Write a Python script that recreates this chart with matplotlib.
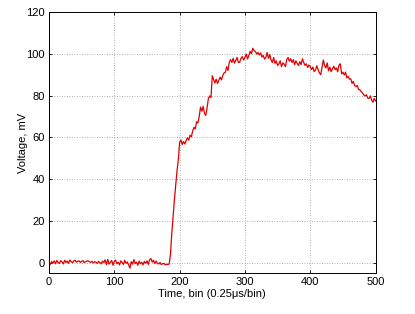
import numpy as np
import matplotlib
matplotlib.use('Agg')
import matplotlib.pyplot as plt

## voltage, one value every 2 bins (0..500)
bins = np.arange(0, 501, 2)
voltage = [
    0.3, -0.8, 0.6, -0.2, 0.9, -0.5, 1.1, 0.2, -0.4, 1.0,
    0.4, -0.6, 1.2, 0.1, 0.8, -0.3, 1.3, 0.5, 0.0, 0.9,
    1.2, 0.3, 0.7, 0.9, 0.2, 0.6, 1.0, 0.1, 0.5, 0.8,
    0.9, 0.4, 0.2, 0.7, -0.1, 0.5, 0.3, -0.4, 0.6, 0.1,
    -0.6, 0.8, 0.0, 1.4, -0.9, 1.6, -0.7, 0.2, 1.1, -1.2,
    0.6, 1.3, -0.5, 0.2, -1.0, 0.9, 0.1, -0.8, 1.2, -0.3,
    0.4, -1.1, -2.6, 0.5, -0.7, 1.5, -0.4, 0.3, -1.2, 0.8,
    -0.5, 0.2, -1.0, 0.6, -0.3, 0.9, -0.8, 1.4, 2.0, 0.3,
    1.2, -0.4, 0.8, -0.2, -0.6, 0.1, -0.9, -0.5, -0.3, -1.0,
    -0.7, -0.9, -0.6, 4.0, 14.0, 22.0, 30.0, 37.0, 44.0, 49.0,
    57.5, 58.8, 56.5, 58.0, 56.8, 58.5, 59.8, 58.6, 61.0, 60.2,
    63.0, 64.8, 64.0, 67.5, 66.8, 70.0, 74.5, 72.5, 74.8, 71.5,
    70.5, 74.0, 78.5, 79.8, 79.0, 89.5, 87.8, 86.0, 87.8, 85.8,
    87.2, 88.8, 87.5, 89.5, 90.8, 91.0, 93.8, 92.0, 95.8, 97.2,
    95.8, 97.8, 95.5, 96.8, 98.2, 95.8, 96.0, 97.8, 98.6, 97.0,
    98.2, 99.8, 97.5, 99.2, 101.2, 100.0, 102.6, 101.4, 101.2, 99.8,
    100.6, 99.4, 100.4, 98.4, 99.2, 97.4, 98.2, 100.6, 97.8, 99.6,
    97.0, 95.8, 98.2, 95.4, 96.6, 94.4, 95.2, 96.6, 93.8, 95.6,
    95.0, 93.8, 97.2, 98.2, 96.4, 97.6, 95.8, 97.2, 94.8, 96.6,
    95.4, 94.4, 96.2, 94.8, 97.6, 95.8, 94.4, 95.2, 93.4, 94.6,
    93.8, 92.4, 93.6, 91.4, 92.2, 94.2, 92.4, 90.8, 90.0, 93.6,
    97.0, 94.4, 93.2, 95.6, 91.8, 93.6, 91.4, 92.8, 94.0, 92.4,
    93.2, 91.4, 94.6, 95.2, 90.4, 91.2, 89.8, 91.2, 88.4, 89.2,
    87.8, 88.0, 85.8, 86.8, 84.8, 84.2, 84.8, 82.8, 82.8, 81.8,
    81.2, 80.2, 79.8, 80.4, 78.8, 78.6, 79.8, 77.8, 76.8, 78.6,
    77.4,
]

x_ticks = [0, 100, 200, 300, 400, 500]
y_ticks = [0, 20, 40, 60, 80, 100, 120]

plt.rcParams['font.family'] = ['Liberation Sans', 'DejaVu Sans']
plt.rcParams['font.size'] = 8

fig = plt.figure(figsize=(4.15, 3.14), dpi=100)
ax = fig.add_axes([0.118, 0.13, 0.787, 0.832])

ax.plot(bins, voltage, color='#e00000', linewidth=0.9)

ax.set_xlim(0, 500)
ax.set_ylim(-5, 120)
ax.set_xticks(x_ticks)
ax.set_yticks(y_ticks)
ax.grid(True, linestyle=(0, (1, 2)), color='#999999', linewidth=0.6)
ax.tick_params(direction='in', length=2.5, width=0.6, top=True, right=True, pad=3)
for s in ax.spines.values():
    s.set_linewidth(0.7)

ax.set_xlabel('Time, bin (0.25\u03bcs/bin)', labelpad=1)
ax.set_ylabel('Voltage, mV')
ax.yaxis.set_label_coords(-0.065, 0.5)

fig.savefig('out.png', dpi=100)
